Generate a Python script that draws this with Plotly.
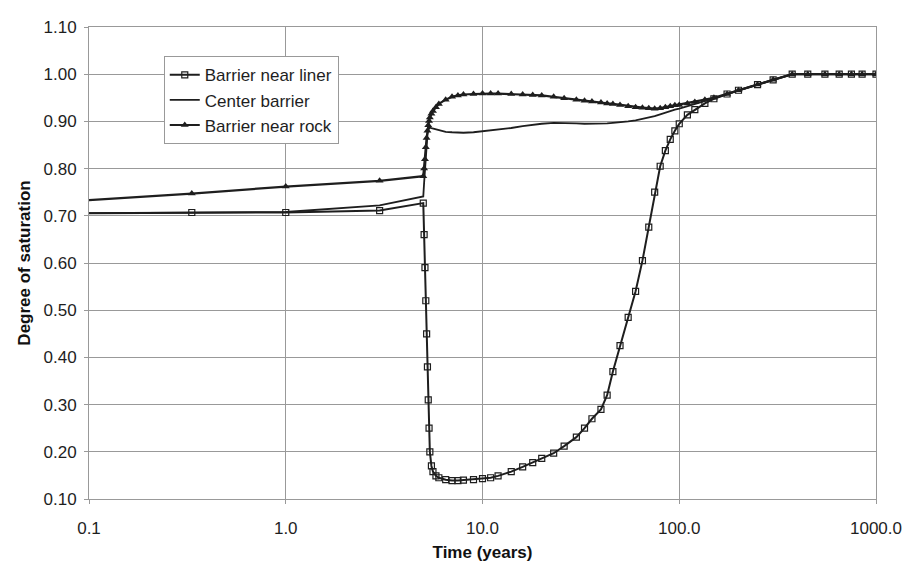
import plotly.graph_objects as go

# time axis shared by the three barrier points (years)
years = [0.05, 0.333, 1, 3, 5, 5.05, 5.1, 5.15, 5.2, 5.25, 5.3, 5.35, 5.4, 5.5,
         5.6, 5.8, 6, 6.5, 7, 7.5, 8, 9, 10, 11, 12, 14, 16, 18, 20, 23, 26, 30,
         33, 36, 40, 43, 46, 50, 55, 60, 65, 70, 75, 80, 85, 90, 95, 100, 110, 120,
         135, 150, 175, 200, 250, 300, 375, 450, 550, 650, 750, 850, 1000]

sat_liner = [0.705, 0.707, 0.707, 0.711, 0.727, 0.66, 0.59, 0.52, 0.45, 0.38, 0.31, 0.25, 0.20, 0.17,
             0.158, 0.149, 0.145, 0.141, 0.139, 0.139, 0.140, 0.141, 0.143, 0.145, 0.149, 0.158, 0.168, 0.177, 0.186, 0.197, 0.212, 0.231,
             0.250, 0.270, 0.290, 0.320, 0.370, 0.425, 0.485, 0.540, 0.605, 0.676, 0.750, 0.805, 0.838, 0.862, 0.880, 0.895, 0.914, 0.925,
             0.938, 0.948, 0.958, 0.966, 0.978, 0.988, 1.0, 1.0, 1.0, 1.0, 1.0, 1.0, 1.0]

sat_center = [0.705, 0.707, 0.708, 0.722, 0.741, 0.77, 0.80, 0.83, 0.855, 0.872, 0.882, 0.886, 0.887, 0.886,
              0.885, 0.883, 0.881, 0.878, 0.877, 0.876, 0.876, 0.877, 0.879, 0.881, 0.883, 0.886, 0.890, 0.893, 0.895, 0.897, 0.897, 0.896,
              0.895, 0.895, 0.895, 0.896, 0.897, 0.898, 0.900, 0.902, 0.905, 0.908, 0.911, 0.915, 0.919, 0.922, 0.925, 0.927, 0.932, 0.936,
              0.943, 0.949, 0.958, 0.966, 0.978, 0.988, 1.0, 1.0, 1.0, 1.0, 1.0, 1.0, 1.0]

sat_rock = [0.725, 0.747, 0.762, 0.774, 0.784, 0.80, 0.82, 0.845, 0.865, 0.88, 0.892, 0.901, 0.908, 0.916,
            0.922, 0.930, 0.937, 0.946, 0.952, 0.955, 0.957, 0.958, 0.959, 0.959, 0.959, 0.958, 0.957, 0.956, 0.955, 0.952, 0.949, 0.946,
            0.944, 0.942, 0.940, 0.938, 0.937, 0.935, 0.932, 0.930, 0.929, 0.928, 0.927, 0.928, 0.930, 0.932, 0.934, 0.935, 0.938, 0.941,
            0.946, 0.950, 0.958, 0.966, 0.978, 0.988, 1.0, 1.0, 1.0, 1.0, 1.0, 1.0, 1.0]

x_tickvals = [0.1, 1, 10, 100, 1000]
x_ticktext = ["0.1", "1.0", "10.0", "100.0", "1000.0"]
y_tickvals = [0.1, 0.2, 0.3, 0.4, 0.5, 0.6, 0.7, 0.8, 0.9, 1.0, 1.1]

ink = "#1e1e1e"
grid = "#999999"
font_family = "Liberation Sans, Arial, sans-serif"

fig = go.Figure()

fig.add_trace(
    go.Scatter(
        x=years, y=sat_liner, name="Barrier near liner",
        mode="lines+markers",
        line=dict(color=ink, width=2),
        marker=dict(symbol="square-open", size=6, color=ink, line=dict(width=1.2)),
    )
)

fig.add_trace(
    go.Scatter(
        x=years, y=sat_center, name="Center barrier",
        mode="lines",
        line=dict(color=ink, width=1.8),
    )
)

fig.add_trace(
    go.Scatter(
        x=years, y=sat_rock, name="Barrier near rock",
        mode="lines+markers",
        line=dict(color=ink, width=2.2),
        marker=dict(symbol="triangle-up", size=7, color=ink),
    )
)

fig.update_layout(
    width=908,
    height=572,
    paper_bgcolor="white",
    plot_bgcolor="white",
    margin={"l": 89, "r": 32, "t": 27, "b": 73},
    font=dict(family=font_family, size=17, color=ink),
    legend=dict(
        x=0.095, y=0.938, xanchor="left", yanchor="top",
        bgcolor="white", bordercolor=grid, borderwidth=1,
        font=dict(size=17, color=ink),
        tracegroupgap=0,
    ),
    showlegend=True,
)

fig.update_xaxes(
    type="log",
    range=[-1, 3],
    tickvals=x_tickvals,
    ticktext=x_ticktext,
    automargin=False,
    showgrid=True, gridcolor=grid, gridwidth=1,
    showline=True, linecolor=grid, linewidth=1, mirror=True,
    ticks="outside", ticklen=4, tickcolor=grid,
    ticklabelstandoff=10,
    zeroline=False,
    title=dict(text="<b>Time (years)</b>", font=dict(size=17, color="#111"), standoff=8),
)

fig.update_yaxes(
    range=[0.1, 1.1],
    tickvals=y_tickvals,
    tickformat=".2f",
    automargin=False,
    showgrid=True, gridcolor=grid, gridwidth=1,
    showline=True, linecolor=grid, linewidth=1, mirror=True,
    ticks="outside", ticklen=4, tickcolor=grid,
    ticklabelstandoff=4,
    zeroline=False,
    title=dict(text="<b>Degree of saturation</b>", font=dict(size=17, color="#111"), standoff=8),
)

# drop the default 8px body margin so the figure fills the window exactly
fig.write_html("out.html", config={"displayModeBar": False},
               post_script="document.body.style.margin = '0';")
